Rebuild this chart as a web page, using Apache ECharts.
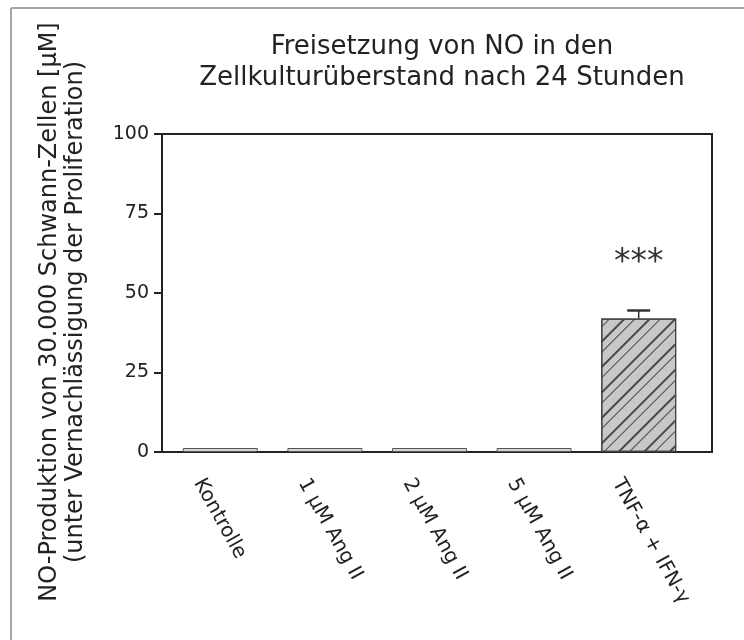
<!DOCTYPE html>
<html>
<head>
<meta charset="utf-8">
<script src="https://cdn.jsdelivr.net/npm/echarts@6/dist/echarts.min.js"></script>
<style>
  html, body { margin: 0; padding: 0; background: #fff; }
  #chart { width: 744px; height: 640px; }
</style>
</head>
<body>
<div id="chart"></div>
<script>
// Werte
const categories = ["Kontrolle", "1 µM Ang II", "2 µM Ang II", "5 µM Ang II", "TNF-α + IFN-γ"];
const noValues = [0, 0, 0, 0, 42];
const noErrors = [0, 0, 0, 0, 2.5];
const significance = ["", "", "", "", "***"];
const yTicks = [0, 25, 50, 75, 100];

const font = "DejaVu Sans, Verdana, sans-serif";
const chart = echarts.init(document.getElementById("chart"));

const option = {
  animation: false,
  backgroundColor: "#fff",
  title: {
    text: "Freisetzung von NO in den\nZellkulturüberstand nach 24 Stunden",
    left: 437,
    top: 27,
    textAlign: "center",
    textStyle: { fontFamily: font, fontSize: 26, fontWeight: "normal", color: "#222", lineHeight: 31 },
  },
  graphic: [
    // Rahmen der Abbildung (oben / links)
    { type: "line", shape: { x1: 11, y1: 8, x2: 744, y2: 8 }, style: { stroke: "#888", lineWidth: 1.5 } },
    { type: "line", shape: { x1: 11, y1: 8, x2: 11, y2: 640 }, style: { stroke: "#888", lineWidth: 1.5 } },
    {
      type: "text",
      x: 63,
      y: 312,
      rotation: Math.PI / 2,
      style: {
        text: "NO-Produktion von 30.000 Schwann-Zellen [µM]\n(unter Vernachlässigung der Proliferation)",
        fontFamily: font,
        fontSize: 24,
        lineHeight: 26,
        fill: "#222",
        align: "center",
        verticalAlign: "middle",
      },
    },
  ],
  grid: [
    // Rahmen des Diagramms
    { left: 162, right: 32, top: 134, bottom: 188, show: true, borderColor: "#222", borderWidth: 2 },
    // Datenbereich
    { left: 168, right: 53, top: 134, bottom: 188 },
    // Beschriftung der Kategorien (leicht nach links versetzt)
    { left: 146, right: 75, top: 134, bottom: 188 },
  ],
  xAxis: [
    { gridIndex: 0, type: "value", min: 0, max: 1, show: false },
    { gridIndex: 1, type: "category", data: categories, show: false },
    {
      gridIndex: 2,
      type: "category",
      data: categories,
      axisLine: { show: false },
      axisTick: { show: false },
      axisLabel: {
        rotate: -61,
        margin: 28,
        fontFamily: font,
        fontSize: 20,
        color: "#222",
        interval: 0,
      },
    },
  ],
  yAxis: [
    {
      gridIndex: 0,
      type: "value",
      min: 0,
      max: 100,
      interval: 25,
      axisLine: { show: true, lineStyle: { color: "#222", width: 2 } },
      axisTick: { show: true, length: 8, lineStyle: { color: "#222", width: 2 } },
      axisLabel: {
        fontFamily: font,
        fontSize: 19,
        color: "#222",
        margin: 13,
        formatter: (v) => (yTicks.includes(v) ? String(v) : ""),
      },
      splitLine: { show: false },
    },
    { gridIndex: 1, type: "value", min: 0, max: 100, show: false },
    { gridIndex: 2, type: "value", min: 0, max: 100, show: false },
  ],
  series: [
    {
      type: "bar",
      xAxisIndex: 1,
      yAxisIndex: 1,
      barWidth: 75,
      barMinHeight: 4,
      itemStyle: { color: "#d6d6d6", borderColor: "#555", borderWidth: 1 },
      data: noValues,
    },
    {
      type: "custom",
      xAxisIndex: 1,
      yAxisIndex: 1,
      data: noValues.map((v, i) => [i, v, noErrors[i]]),
      renderItem: function (params, api) {
        const i = api.value(0);
        const v = api.value(1);
        const e = api.value(2);
        const children = [];
        if (e > 0) {
          const base = api.coord([i, v]);
          const top = api.coord([i, v + e]);
          children.push(
            { type: "line", shape: { x1: base[0], y1: base[1], x2: top[0], y2: top[1] }, style: { stroke: "#333", lineWidth: 1.5 } },
            { type: "line", shape: { x1: top[0] - 11.5, y1: top[1], x2: top[0] + 11.5, y2: top[1] }, style: { stroke: "#333", lineWidth: 2.5 } }
          );
        }
        if (significance[i]) {
          const top = api.coord([i, v + e]);
          children.push({
            type: "text",
            x: top[0],
            y: top[1] - 47,
            style: { text: significance[i], fontFamily: font, fontSize: 33, fill: "#333", align: "center", verticalAlign: "middle" },
          });
        }
        return { type: "group", children };
      },
      z: 5,
    },
  ],
};

// schraffierter Balken für TNF-α + IFN-γ
option.series[0].data = noValues.map((v, i) =>
  i === 4
    ? {
        value: v,
        itemStyle: {
          color: "#c8c8c8",
          borderColor: "#444",
          borderWidth: 1.2,
          decal: {
            symbol: "rect",
            symbolSize: 1,
            dashArrayX: [1, 0],
            dashArrayY: [1.2, 6, 0.8, 9],
            rotation: -Math.PI / 4,
            color: "rgba(40,40,40,0.8)",
          },
        },
      }
    : v
);

chart.setOption(option);
</script>
</body>
</html>
